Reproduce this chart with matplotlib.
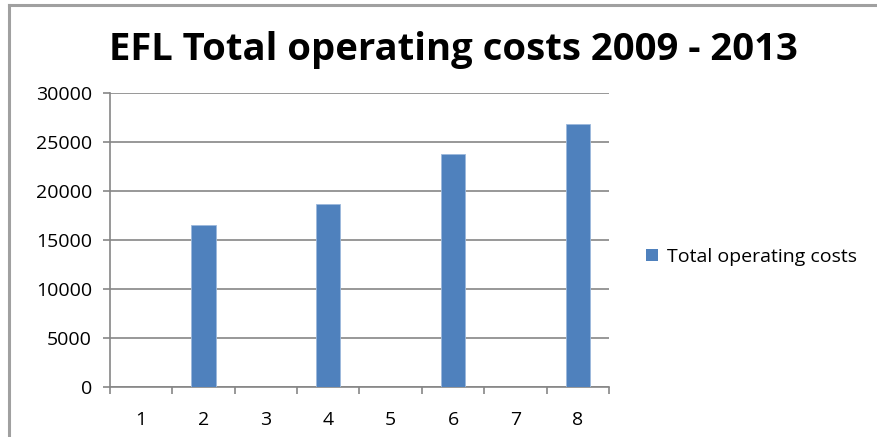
import matplotlib.pyplot as plt
from matplotlib.lines import Line2D
from matplotlib.patches import Patch

# category positions and operating cost values
categories = [1, 2, 3, 4, 5, 6, 7, 8]
costs = [0, 16600, 0, 18700, 0, 23800, 0, 26900]
y_ticks = [0, 5000, 10000, 15000, 20000, 25000, 30000]

plt.rcParams['font.family'] = ['Open Sans', 'DejaVu Sans']

fig = plt.figure(figsize=(8.77, 4.37), dpi=100)
ax = fig.add_axes([0.1254, 0.1144, 0.569, 0.672])

bar_color = '#4f81bd'
ax.bar(categories, costs, width=0.39, color=bar_color, edgecolor='#9cb9dc',
       linewidth=0.6, zorder=3)

ax.set_xlim(0.5, 8.5)
ax.set_ylim(0, 30000)
ax.set_yticks(y_ticks)
ax.set_yticklabels([str(v) for v in y_ticks], fontsize=14)
ax.set_xticks(categories)
ax.set_xticklabels([str(c) for c in categories], fontsize=14)

# gridlines and axes in Excel-like grey
grid_c = '#868686'
ax.yaxis.grid(True, color=grid_c, linewidth=1.2, zorder=0)
for s in ['top', 'right']:
    ax.spines[s].set_visible(False)
for s in ['left', 'bottom']:
    ax.spines[s].set_color(grid_c)
    ax.spines[s].set_linewidth(1.2)

# tick marks sit on the category boundaries along x
ax.tick_params(axis='x', length=0, pad=17)
ax.set_xticks([c + 0.5 for c in categories[:-1]] + [0.5, 8.5], minor=True)
ax.tick_params(axis='x', which='minor', length=5, color=grid_c, width=1.2, direction='out')
ax.tick_params(axis='y', length=5, color=grid_c, width=1.2, direction='out', pad=8)

fig.text(0.517, 0.885, 'EFL Total operating costs 2009 - 2013', ha='center', va='center',
         fontsize=27.5, fontweight='bold')

# legend entry
fig.legend(handles=[Patch(facecolor=bar_color, label='Total operating costs')],
           loc='center left', bbox_to_anchor=(0.737, 0.412), frameon=False,
           fontsize=14, handlelength=0.6, handleheight=0.6, handletextpad=0.45,
           borderaxespad=0, borderpad=0)

# chart-area border (top and left edges)
fig.add_artist(Line2D([0.0097, 1.0], [0.988, 0.988], color='#a0a0a0', linewidth=2.2))
fig.add_artist(Line2D([0.0097, 0.0097], [0.0, 0.988], color='#a0a0a0', linewidth=2.2))

fig.savefig('out.png', dpi=100)
